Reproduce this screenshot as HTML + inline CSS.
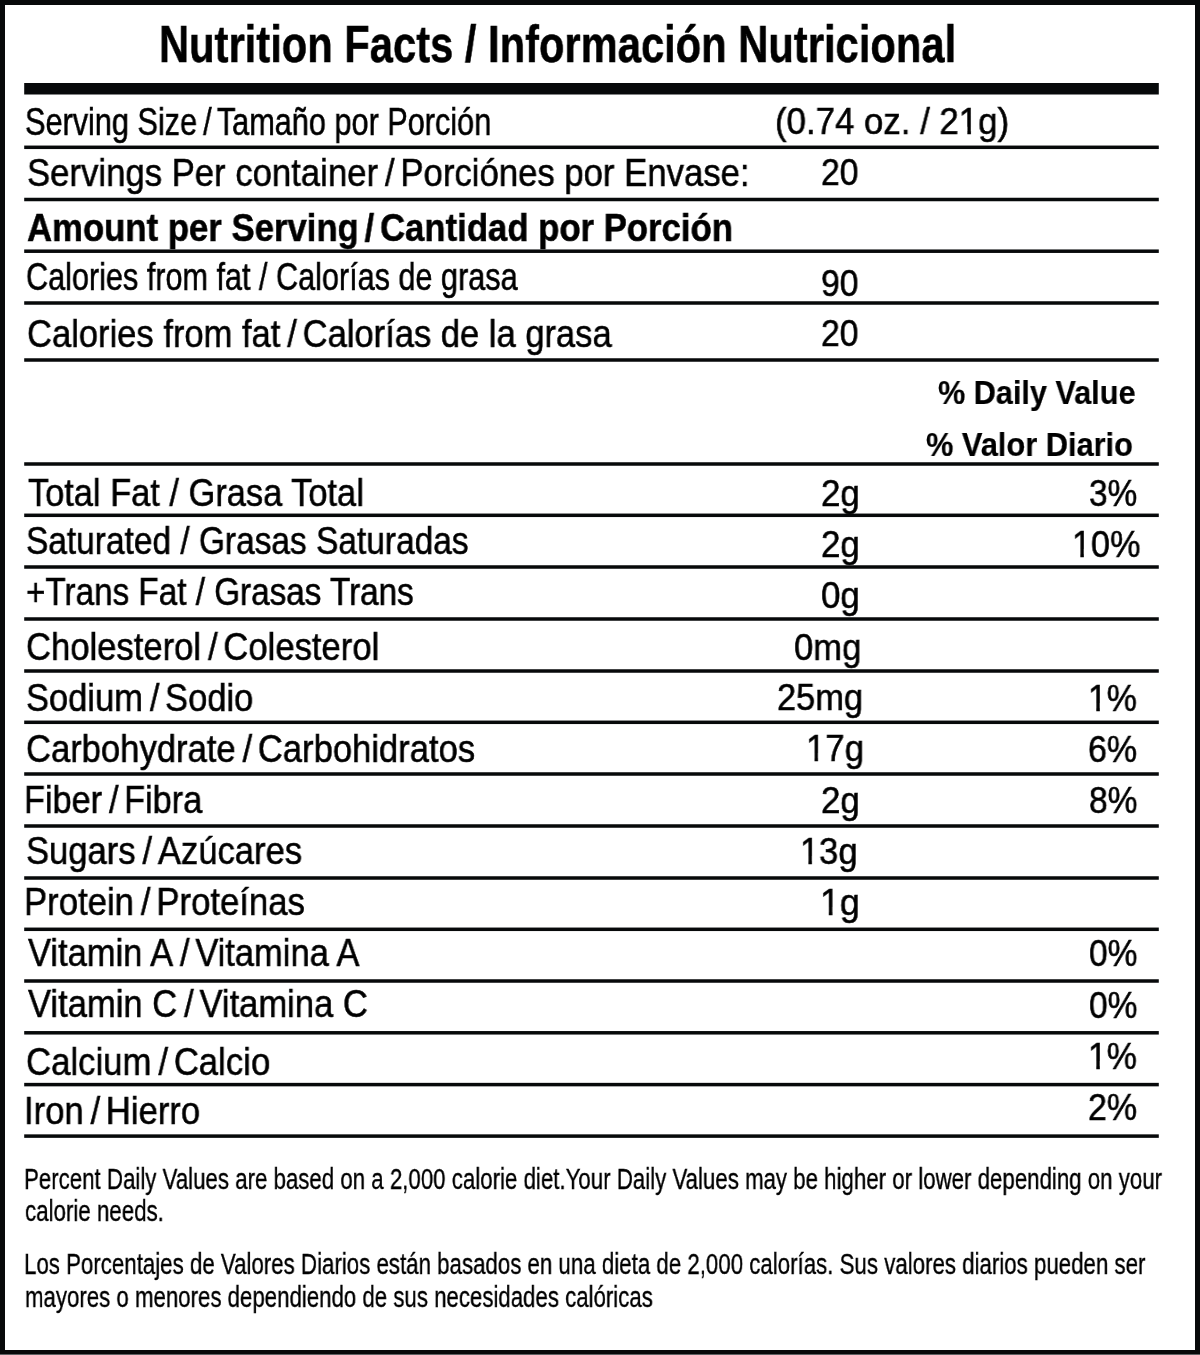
<!DOCTYPE html>
<html><head><meta charset="utf-8"><style>
html,body{margin:0;padding:0;background:#fff;}
body{width:1200px;height:1355px;position:relative;overflow:hidden;font-family:"Liberation Sans",sans-serif;color:#000;}
.frame{position:absolute;left:0;top:0;width:1200px;height:1354px;box-sizing:border-box;border:5px solid #07090a;border-bottom-width:4px;}
.gray{position:absolute;left:0;top:1354px;width:1200px;height:1px;background:#5f6264;}
.t{position:absolute;white-space:nowrap;transform-origin:0 0;color:#000;-webkit-text-stroke:0.55px #000;will-change:transform;}
svg{position:absolute;left:0;top:0;}
.one{display:inline-block;clip-path:polygon(-5% -5%,105% -5%,105% 0.62em,0.346em 0.62em,0.346em 105%,0.245em 105%,0.245em 0.62em,-5% 0.62em);}
</style></head><body>
<div class="frame"></div><div class="gray"></div>
<svg width="1200" height="1355" fill="#07090a"><rect x="24.2" y="83.00" width="1134.6" height="11.5"/><rect x="24.2" y="145.55" width="1134.6" height="3.5"/><rect x="24.2" y="197.75" width="1134.6" height="3.5"/><rect x="24.2" y="249.45" width="1134.6" height="3.5"/><rect x="24.2" y="301.25" width="1134.6" height="3.5"/><rect x="24.2" y="358.25" width="1134.6" height="3.5"/><rect x="24.2" y="462.25" width="1134.6" height="3.5"/><rect x="24.2" y="513.55" width="1134.6" height="3.5"/><rect x="24.2" y="565.25" width="1134.6" height="3.5"/><rect x="24.2" y="617.25" width="1134.6" height="3.5"/><rect x="24.2" y="669.25" width="1134.6" height="3.5"/><rect x="24.2" y="720.55" width="1134.6" height="3.5"/><rect x="24.2" y="772.25" width="1134.6" height="3.5"/><rect x="24.2" y="824.25" width="1134.6" height="3.5"/><rect x="24.2" y="876.25" width="1134.6" height="3.5"/><rect x="24.2" y="927.55" width="1134.6" height="3.5"/><rect x="24.2" y="979.25" width="1134.6" height="3.5"/><rect x="24.2" y="1031.05" width="1134.6" height="3.5"/><rect x="24.2" y="1082.85" width="1134.6" height="3.5"/><rect x="24.2" y="1134.35" width="1134.6" height="3.5"/></svg>
<div class="t" style="left:159.09px;top:18.00px;font-size:52px;line-height:52px;font-weight:700;transform:scaleX(0.8020);-webkit-text-stroke-width:0.5px">Nutrition Facts / Información Nutricional</div>
<div class="t" style="left:24.52px;top:101.70px;font-size:39.2px;line-height:39.2px;font-weight:400;transform:scaleX(0.7823);-webkit-text-stroke-width:0.55px">Serving Size / Tamaño por Porción</div>
<div class="t" style="left:775.01px;top:103.60px;font-size:36.8px;line-height:36.8px;font-weight:400;transform:scaleX(0.9460);-webkit-text-stroke-width:0.55px">(0.74 oz. / 2<span class=one>1</span>g)</div>
<div class="t" style="left:26.60px;top:153.60px;font-size:38.7px;line-height:38.7px;font-weight:400;transform:scaleX(0.8970);-webkit-text-stroke-width:0.55px">Servings Per container / Porciónes por Envase:</div>
<div class="t" style="left:820.89px;top:153.60px;font-size:37px;line-height:37px;font-weight:400;transform:scaleX(0.9121);-webkit-text-stroke-width:0.55px">20</div>
<div class="t" style="left:26.50px;top:208.00px;font-size:39.2px;line-height:39.2px;font-weight:700;transform:scaleX(0.8859);-webkit-text-stroke-width:0.5px">Amount per Serving / Cantidad por Porción</div>
<div class="t" style="left:26.21px;top:257.90px;font-size:38.7px;line-height:38.7px;font-weight:400;transform:scaleX(0.7911);-webkit-text-stroke-width:0.55px">Calories from fat / Calorías de grasa</div>
<div class="t" style="left:820.89px;top:265.10px;font-size:37px;line-height:37px;font-weight:400;transform:scaleX(0.9121);-webkit-text-stroke-width:0.55px">90</div>
<div class="t" style="left:26.61px;top:314.50px;font-size:38.7px;line-height:38.7px;font-weight:400;transform:scaleX(0.8927);-webkit-text-stroke-width:0.55px">Calories from fat / Calorías de la grasa</div>
<div class="t" style="left:820.89px;top:315.00px;font-size:37px;line-height:37px;font-weight:400;transform:scaleX(0.9121);-webkit-text-stroke-width:0.55px">20</div>
<div class="t" style="left:937.90px;top:376.00px;font-size:33px;line-height:33px;font-weight:700;transform:scaleX(0.9283);-webkit-text-stroke-width:0.2px">% Daily Value</div>
<div class="t" style="left:925.60px;top:428.00px;font-size:33px;line-height:33px;font-weight:700;transform:scaleX(0.9323);-webkit-text-stroke-width:0.2px">% Valor Diario</div>
<div class="t" style="left:28.30px;top:474.00px;font-size:38.7px;line-height:38.7px;font-weight:400;transform:scaleX(0.8892);-webkit-text-stroke-width:0.55px">Total Fat / Grasa Total</div>
<div class="t" style="left:820.86px;top:475.00px;font-size:37px;line-height:37px;font-weight:400;transform:scaleX(0.9436);-webkit-text-stroke-width:0.55px">2g</div>
<div class="t" style="left:1088.70px;top:475.30px;font-size:37px;line-height:37px;font-weight:400;transform:scaleX(0.9035);-webkit-text-stroke-width:0.55px">3%</div>
<div class="t" style="left:26.14px;top:521.80px;font-size:38.7px;line-height:38.7px;font-weight:400;transform:scaleX(0.8646);-webkit-text-stroke-width:0.55px">Saturated / Grasas Saturadas</div>
<div class="t" style="left:820.86px;top:525.90px;font-size:37px;line-height:37px;font-weight:400;transform:scaleX(0.9436);-webkit-text-stroke-width:0.55px">2g</div>
<div class="t" style="left:1071.81px;top:526.20px;font-size:37px;line-height:37px;font-weight:400;transform:scaleX(0.9239);-webkit-text-stroke-width:0.55px"><span class=one>1</span>0%</div>
<div class="t" style="left:26.14px;top:572.70px;font-size:38.7px;line-height:38.7px;font-weight:400;transform:scaleX(0.8594);-webkit-text-stroke-width:0.55px">+Trans Fat / Grasas Trans</div>
<div class="t" style="left:820.86px;top:577.10px;font-size:37px;line-height:37px;font-weight:400;transform:scaleX(0.9436);-webkit-text-stroke-width:0.55px">0g</div>
<div class="t" style="left:26.11px;top:627.60px;font-size:38.7px;line-height:38.7px;font-weight:400;transform:scaleX(0.8947);-webkit-text-stroke-width:0.55px">Cholesterol / Colesterol</div>
<div class="t" style="left:793.56px;top:628.50px;font-size:37px;line-height:37px;font-weight:400;transform:scaleX(0.9352);-webkit-text-stroke-width:0.55px">0mg</div>
<div class="t" style="left:26.11px;top:678.70px;font-size:38.7px;line-height:38.7px;font-weight:400;transform:scaleX(0.8909);-webkit-text-stroke-width:0.55px">Sodium / Sodio</div>
<div class="t" style="left:776.77px;top:679.40px;font-size:37px;line-height:37px;font-weight:400;transform:scaleX(0.9291);-webkit-text-stroke-width:0.55px">25mg</div>
<div class="t" style="left:1088.14px;top:679.70px;font-size:37px;line-height:37px;font-weight:400;transform:scaleX(0.9160);-webkit-text-stroke-width:0.55px"><span class=one>1</span>%</div>
<div class="t" style="left:26.11px;top:730.10px;font-size:38.7px;line-height:38.7px;font-weight:400;transform:scaleX(0.8940);-webkit-text-stroke-width:0.55px">Carbohydrate / Carbohidratos</div>
<div class="t" style="left:806.16px;top:730.30px;font-size:37px;line-height:37px;font-weight:400;transform:scaleX(0.9382);-webkit-text-stroke-width:0.55px"><span class=one>1</span>7g</div>
<div class="t" style="left:1087.98px;top:730.70px;font-size:37px;line-height:37px;font-weight:400;transform:scaleX(0.9190);-webkit-text-stroke-width:0.55px">6%</div>
<div class="t" style="left:24.34px;top:780.80px;font-size:38.7px;line-height:38.7px;font-weight:400;transform:scaleX(0.8857);-webkit-text-stroke-width:0.55px">Fiber / Fibra</div>
<div class="t" style="left:820.86px;top:781.70px;font-size:37px;line-height:37px;font-weight:400;transform:scaleX(0.9436);-webkit-text-stroke-width:0.55px">2g</div>
<div class="t" style="left:1088.59px;top:782.00px;font-size:37px;line-height:37px;font-weight:400;transform:scaleX(0.9074);-webkit-text-stroke-width:0.55px">8%</div>
<div class="t" style="left:26.11px;top:832.10px;font-size:38.7px;line-height:38.7px;font-weight:400;transform:scaleX(0.8941);-webkit-text-stroke-width:0.55px">Sugars / Azúcares</div>
<div class="t" style="left:799.89px;top:832.50px;font-size:37px;line-height:37px;font-weight:400;transform:scaleX(0.9312);-webkit-text-stroke-width:0.55px"><span class=one>1</span>3g</div>
<div class="t" style="left:24.31px;top:883.00px;font-size:38.7px;line-height:38.7px;font-weight:400;transform:scaleX(0.8971);-webkit-text-stroke-width:0.55px">Protein / Proteínas</div>
<div class="t" style="left:819.85px;top:883.70px;font-size:37px;line-height:37px;font-weight:400;transform:scaleX(0.9689);-webkit-text-stroke-width:0.55px"><span class=one>1</span>g</div>
<div class="t" style="left:28.00px;top:933.90px;font-size:38.7px;line-height:38.7px;font-weight:400;transform:scaleX(0.8914);-webkit-text-stroke-width:0.55px">Vitamin A / Vitamina A</div>
<div class="t" style="left:1088.59px;top:935.40px;font-size:37px;line-height:37px;font-weight:400;transform:scaleX(0.9074);-webkit-text-stroke-width:0.55px">0%</div>
<div class="t" style="left:28.00px;top:985.00px;font-size:38.7px;line-height:38.7px;font-weight:400;transform:scaleX(0.8933);-webkit-text-stroke-width:0.55px">Vitamin C / Vitamina C</div>
<div class="t" style="left:1088.59px;top:986.50px;font-size:37px;line-height:37px;font-weight:400;transform:scaleX(0.9074);-webkit-text-stroke-width:0.55px">0%</div>
<div class="t" style="left:26.10px;top:1043.00px;font-size:38.7px;line-height:38.7px;font-weight:400;transform:scaleX(0.8974);-webkit-text-stroke-width:0.55px">Calcium / Calcio</div>
<div class="t" style="left:1088.14px;top:1037.70px;font-size:37px;line-height:37px;font-weight:400;transform:scaleX(0.9160);-webkit-text-stroke-width:0.55px"><span class=one>1</span>%</div>
<div class="t" style="left:24.32px;top:1091.70px;font-size:38.7px;line-height:38.7px;font-weight:400;transform:scaleX(0.8939);-webkit-text-stroke-width:0.55px">Iron / Hierro</div>
<div class="t" style="left:1087.98px;top:1088.50px;font-size:37px;line-height:37px;font-weight:400;transform:scaleX(0.9190);-webkit-text-stroke-width:0.55px">2%</div>
<div class="t" style="left:24.34px;top:1164.90px;font-size:28.6px;line-height:28.6px;font-weight:400;transform:scaleX(0.7785);-webkit-text-stroke-width:0.35px">Percent Daily Values are based on a 2,000 calorie diet.Your Daily Values may be higher or lower depending on your</div>
<div class="t" style="left:25.12px;top:1197.40px;font-size:28.6px;line-height:28.6px;font-weight:400;transform:scaleX(0.7802);-webkit-text-stroke-width:0.35px">calorie needs.</div>
<div class="t" style="left:24.34px;top:1249.90px;font-size:28.6px;line-height:28.6px;font-weight:400;transform:scaleX(0.7790);-webkit-text-stroke-width:0.35px">Los Porcentajes de Valores Diarios están basados en una dieta de 2,000 calorías. Sus valores diarios pueden ser</div>
<div class="t" style="left:25.12px;top:1283.00px;font-size:28.6px;line-height:28.6px;font-weight:400;transform:scaleX(0.7775);-webkit-text-stroke-width:0.35px">mayores o menores dependiendo de sus necesidades calóricas</div>
</body></html>
